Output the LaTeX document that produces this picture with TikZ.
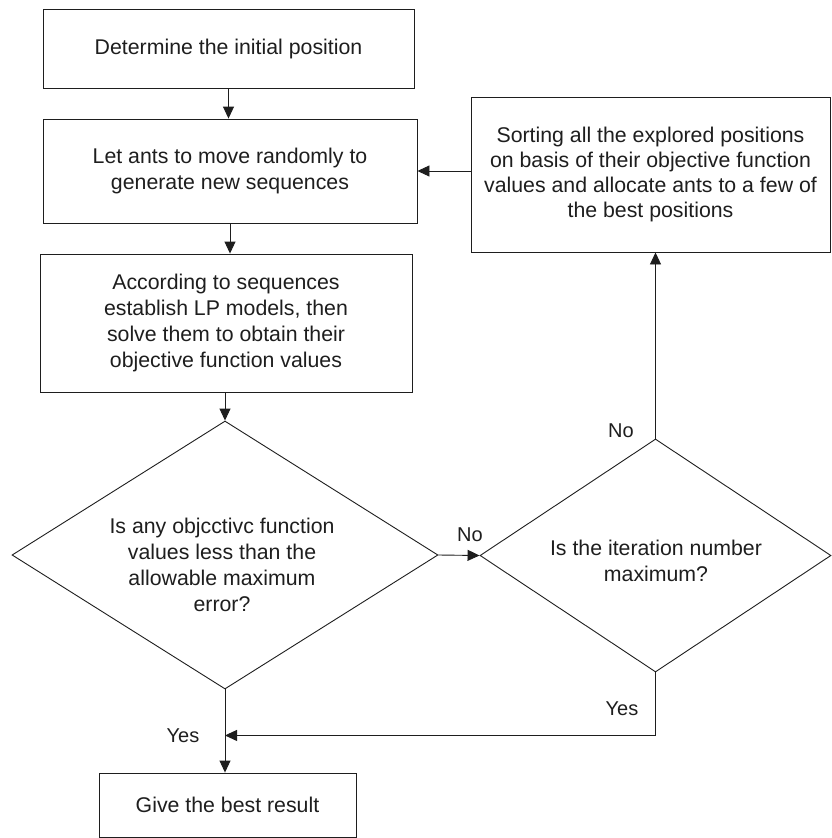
\documentclass[tikz,border=0pt]{standalone}
\usepackage{fontspec}
\setmainfont{Liberation Sans}
\usetikzlibrary{shapes.geometric,arrows.meta,calc}
\definecolor{ink}{RGB}{30,30,30}
\begin{document}
\begin{tikzpicture}[x=1pt,y=-1pt,
  every node/.style={font=\fontsize{21.3}{26}\selectfont, text=ink},
  procbox/.style={draw=ink, line width=0.9pt, rectangle, inner sep=0pt, align=center},
  decision/.style={draw=ink, line width=0.9pt, diamond, inner sep=0pt, shape aspect=1.6},
  arr/.style={draw=ink, line width=0.9pt, -{Triangle[length=12pt,width=11pt]}},
  plain/.style={draw=ink, line width=0.9pt},
  lbl/.style={font=\fontsize{20}{24}\selectfont, anchor=base, inner sep=0pt}]
\useasboundingbox (0,0) rectangle (831,838);
\fill[white] (0,0) rectangle (831,838);

\node[procbox, minimum width=371pt, minimum height=79pt] (b1) at (228.5,48.5) {Determine the initial position};
\node[procbox, minimum width=374pt, minimum height=104pt] (b2) at (230,171) {Let ants to move randomly to\\generate new sequences};
\node[procbox, minimum width=372pt, minimum height=138pt] (b3) at (226,323) {According to sequences\\establish LP models, then\\solve them to obtain their\\objective function values};
\node[procbox, minimum width=359pt, minimum height=155pt, font=\fontsize{21.3}{25}\selectfont] (rb) at (650.5,174.5) {Sorting all the explored positions\\on basis of their objective function\\values and allocate ants to a few of\\the best positions};
\node[decision, minimum width=426pt, minimum height=268pt] (d1) at (225,555) {};
\node[align=center, inner sep=0pt] (d1t) at (222,565) {Is any objcctivc function\\values less than the\\allowable maximum\\error?};
\node[decision, minimum width=351pt, minimum height=233pt] (d2) at (655.5,555.5) {};
\node[align=center, inner sep=0pt] (d2t) at (656,561) {Is the iteration number\\maximum?};
\node[procbox, minimum width=257pt, minimum height=64pt] (res) at (227.5,805) {Give the best result};

\draw[arr] (b1.south) -- (b1.south |- b2.north);
\draw[arr] (b2.south) -- (b2.south |- b3.north);
\draw[arr] (b3.south -| d1.north) -- (d1.north);
\draw[arr] (d1.east) -- (d2.west);
\draw[arr] (d2.north) -- (d2.north |- rb.south);
\draw[arr] (rb.west |- b2.east) -- (b2.east);
\coordinate (j) at ($(d1.south)+(0,46)$);
\draw[arr] (d2.south) -- (d2.south |- j) -- (j);
\draw[arr] (d1.south) -- (d1.south |- res.north);

\node[lbl] (l1) at (470,541) {No};
\node[lbl] (l2) at (621,437) {No};
\node[lbl] (l3) at (622,715) {Yes};
\node[lbl] (l4) at (183,742) {Yes};
\end{tikzpicture}
\end{document}
